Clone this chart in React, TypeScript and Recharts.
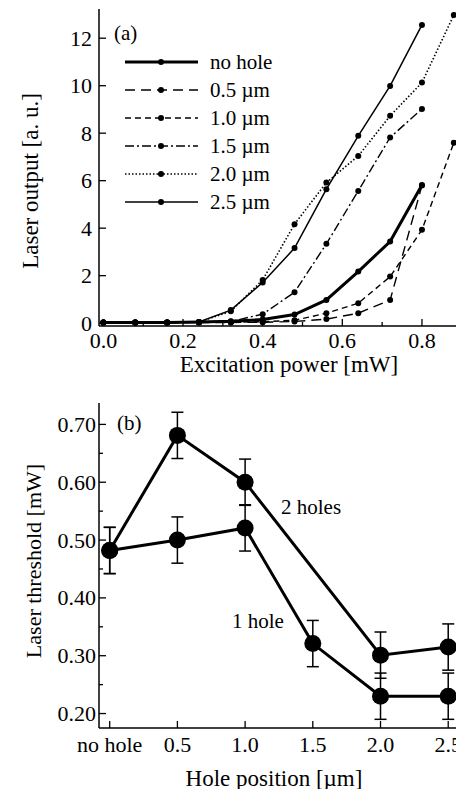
import React from "react";
import {
  LineChart,
  Line,
  XAxis,
  YAxis,
  ErrorBar,
  Legend,
} from "recharts";

// (a) laser output vs excitation power
const powerMw = [0, 0.08, 0.16, 0.24, 0.32, 0.4, 0.48, 0.56, 0.64, 0.72, 0.8, 0.88];
const noHole = [0.03, 0.03, 0.03, 0.05, 0.08, 0.15, 0.36, 0.98, 2.17, 3.44, 5.82, null];
const hole05 = [0.03, 0.03, 0.03, 0.03, 0.03, 0.04, 0.07, 0.17, 0.42, 0.97, 5.8, null];
const hole10 = [0.03, 0.03, 0.03, 0.03, 0.04, 0.06, 0.12, 0.42, 0.84, 1.96, 3.93, 7.6];
const hole15 = [0.03, 0.03, 0.03, 0.04, 0.07, 0.38, 1.3, 3.34, 5.57, 7.82, 9.02, null];
const hole20 = [0.03, 0.03, 0.03, 0.05, 0.5, 1.82, 4.17, 5.92, 7.04, 8.73, 10.13, 12.98];
const hole25 = [0.03, 0.03, 0.03, 0.05, 0.55, 1.71, 3.16, 5.64, 7.89, 9.99, 12.56, null];
const outputTicks = [0, 2, 4, 6, 8, 10, 12];
const powerTicks = [0, 0.1, 0.2, 0.3, 0.4, 0.5, 0.6, 0.7, 0.8];
const powerLabels = [0, 0.2, 0.4, 0.6, 0.8];

// (b) threshold vs hole position
const holePos = [0, 0.5, 1.0, 1.5, 2.0, 2.5];
const holePosLabels = ["no hole", "0.5", "1.0", "1.5", "2.0", "2.5"];
const oneHole = [0.482, 0.5, 0.521, 0.321, 0.23, 0.23];
const oneHoleErr = [0.04, 0.04, 0.04, 0.04, 0.04, 0.04];
const twoHoles = [0.482, 0.681, 0.6, null, 0.301, 0.315];
const twoHolesErr = [0.04, 0.04, 0.04, null, 0.04, 0.04];
const thrTicks = [0.2, 0.25, 0.3, 0.35, 0.4, 0.45, 0.5, 0.55, 0.6, 0.65, 0.7];
const thrLabels = [0.2, 0.3, 0.4, 0.5, 0.6, 0.7];

const series = [
  { key: "noHole", name: "no hole", width: 3, dash: undefined },
  { key: "hole05", name: "0.5 µm", width: 1.4, dash: "10 6" },
  { key: "hole10", name: "1.0 µm", width: 1.4, dash: "6 4" },
  { key: "hole15", name: "1.5 µm", width: 1.4, dash: "9 3 2 3" },
  { key: "hole20", name: "2.0 µm", width: 1.6, dash: "1.5 2" },
  { key: "hole25", name: "2.5 µm", width: 1.5, dash: undefined },
];

const outputData = powerMw.map((p, i) => ({
  p,
  noHole: noHole[i],
  hole05: hole05[i],
  hole10: hole10[i],
  hole15: hole15[i],
  hole20: hole20[i],
  hole25: hole25[i],
}));

const thresholdData = holePos.map((pos, i) => ({
  pos,
  one: oneHole[i],
  oneErr: oneHoleErr[i],
  two: twoHoles[i],
  twoErr: twoHolesErr[i],
}));

const FONT = '"Liberation Serif", "Times New Roman", serif';
const AXIS = { stroke: "#000", strokeWidth: 1.5 };
const near = (list: number[], v: number) => list.some((m) => Math.abs(m - v) < 1e-6);

const yTick = (side: "left" | "right", majors: number[], fmt: (v: number) => string, gap: number) =>
  (props: any) => {
    const { x, y, payload } = props;
    const major = near(majors, payload.value);
    const len = major ? 7 : 4;
    const dir = side === "left" ? 1 : -1;
    return (
      <g>
        <line x1={x} x2={x + dir * len} y1={y} y2={y} stroke="#000" strokeWidth={1.3} />
        {side === "left" && major && (
          <text x={x - gap} y={y} textAnchor="end" dominantBaseline="central"
            fontFamily={FONT} fontSize={22} fill="#000">
            {fmt(payload.value)}
          </text>
        )}
      </g>
    );
  };

const xTick = (majors: number[], fmt: (v: number) => string, dy: number) => (props: any) => {
  const { x, y, payload } = props;
  const major = near(majors, payload.value);
  return (
    <g>
      <line x1={x} x2={x} y1={y} y2={y - (major ? 7 : 4)} stroke="#000" strokeWidth={1.3} />
      {major && (
        <text x={x} y={y + dy} textAnchor="middle" dominantBaseline="central"
          fontFamily={FONT} fontSize={22} fill="#000">
          {fmt(payload.value)}
        </text>
      )}
    </g>
  );
};

const renderLegend = () => (
  <svg width={320} height={230}>
    {series.map((s, i) => {
      const y = 62 + i * 28;
      return (
        <g key={s.key}>
          <line x1={125} x2={198} y1={y} y2={y} stroke="#000"
            strokeWidth={s.width} strokeDasharray={s.dash} />
          <circle cx={161} cy={y} r={3} fill="#000" />
          <text x={210} y={y} dominantBaseline="central" fontFamily={FONT} fontSize={21}>
            {s.name}
          </text>
        </g>
      );
    })}
  </svg>
);

const OutputChart = () => (
  <LineChart width={470} height={360} data={outputData}
    margin={{ top: 9, right: 10, bottom: 14, left: 0 }}>
    <XAxis xAxisId="top" orientation="top" type="number" dataKey="p"
      domain={[-0.011, 0.8955]} allowDataOverflow height={0} tick={false}
      tickLine={false} axisLine={AXIS} />
    <XAxis type="number" dataKey="p" domain={[-0.011, 0.8955]} allowDataOverflow
      ticks={powerTicks} interval={0} height={20} tickSize={0} tickMargin={0}
      axisLine={AXIS} tick={xTick(powerLabels, (v) => v.toFixed(1), 14)} />
    <YAxis type="number" domain={[-0.12, 13.23]} allowDataOverflow ticks={outputTicks}
      interval={0} width={99} tickSize={0} tickMargin={0} axisLine={AXIS}
      tick={yTick("left", outputTicks, (v) => String(v), 7)} />
    <YAxis yAxisId="right" orientation="right" type="number" domain={[-0.12, 13.23]}
      allowDataOverflow ticks={outputTicks} interval={0} width={0} tickSize={0}
      tickMargin={0} axisLine={AXIS} tick={yTick("right", outputTicks, String, 0)} />
    <Legend layout="horizontal" verticalAlign="middle" align="center"
      content={renderLegend}
      wrapperStyle={{ left: 0, top: 0, width: 320, height: 230 }} />
    {series.map((s) => (
      <Line key={s.key} type="linear" dataKey={s.key} name={s.name} stroke="#000"
        strokeWidth={s.width} strokeDasharray={s.dash}
        dot={{ r: 3, fill: "#000", strokeWidth: 0 }} activeDot={false}
        isAnimationActive={false} />
    ))}
  </LineChart>
);

const ThresholdChart = () => (
  <LineChart width={470} height={380} data={thresholdData}
    margin={{ top: 13, right: 10, bottom: 22, left: 0 }}>
    <XAxis xAxisId="top" orientation="top" type="number" dataKey="pos"
      domain={[-0.079, 2.587]} allowDataOverflow height={0} tick={false}
      tickLine={false} axisLine={AXIS} />
    <XAxis type="number" dataKey="pos" domain={[-0.079, 2.587]} allowDataOverflow
      ticks={holePos} interval={0} height={20} tickSize={0} tickMargin={0}
      axisLine={AXIS}
      tick={xTick(holePos, (v) => holePosLabels[holePos.findIndex((h) => Math.abs(h - v) < 1e-6)], 16)} />
    <YAxis type="number" domain={[0.175, 0.737]} allowDataOverflow ticks={thrTicks}
      interval={0} width={99} tickSize={0} tickMargin={0} axisLine={AXIS}
      tick={yTick("left", thrLabels, (v) => v.toFixed(2), 3)} />
    <YAxis yAxisId="right" orientation="right" type="number" domain={[0.175, 0.737]}
      allowDataOverflow ticks={thrTicks} interval={0} width={0} tickSize={0}
      tickMargin={0} axisLine={AXIS} tick={yTick("right", thrLabels, String, 0)} />
    <Line type="linear" dataKey="two" stroke="#000" strokeWidth={3} connectNulls
      dot={{ r: 8.5, fill: "#000", strokeWidth: 0 }} activeDot={false}
      isAnimationActive={false}>
      <ErrorBar dataKey="twoErr" direction="y" width={6} stroke="#000" strokeWidth={1.5} />
    </Line>
    <Line type="linear" dataKey="one" stroke="#000" strokeWidth={3}
      dot={{ r: 8.5, fill: "#000", strokeWidth: 0 }} activeDot={false}
      isAnimationActive={false}>
      <ErrorBar dataKey="oneErr" direction="y" width={6} stroke="#000" strokeWidth={1.5} />
    </Line>
  </LineChart>
);

const Notes = () => (
  <svg width={456} height={789} style={{ position: "absolute", left: 0, top: 0, pointerEvents: "none" }}
    fontFamily={FONT} fill="#000">
    <text x={30} y={181} fontSize={23} textAnchor="middle" dominantBaseline="central"
      transform="rotate(-90 30 181)">Laser output [a. u.]</text>
    <text x={289} y={364} fontSize={23} textAnchor="middle" dominantBaseline="central">
      Excitation power [mW]
    </text>
    <text x={114} y={33} fontSize={21} dominantBaseline="central">(a)</text>
    <text x={117} y={423} fontSize={21} dominantBaseline="central">(b)</text>
    <text x={281} y={507} fontSize={21} dominantBaseline="central">2 holes</text>
    <text x={232} y={621} fontSize={21} dominantBaseline="central">1 hole</text>
    <text x={33} y={561} fontSize={22} textAnchor="middle" dominantBaseline="central"
      transform="rotate(-90 33 561)">Laser threshold [mW]</text>
    <text x={274} y={778} fontSize={23} textAnchor="middle" dominantBaseline="central">
      Hole position [µm]
    </text>
  </svg>
);

export default function App() {
  return (
    <div style={{ position: "absolute", left: 0, top: 0, width: 456, height: 789,
      overflow: "hidden", background: "#fff", fontFamily: FONT }}>
      <div style={{ position: "absolute", left: 0, top: 0 }}>
        <OutputChart />
      </div>
      <div style={{ position: "absolute", left: 0, top: 390 }}>
        <ThresholdChart />
      </div>
      <Notes />
    </div>
  );
}
